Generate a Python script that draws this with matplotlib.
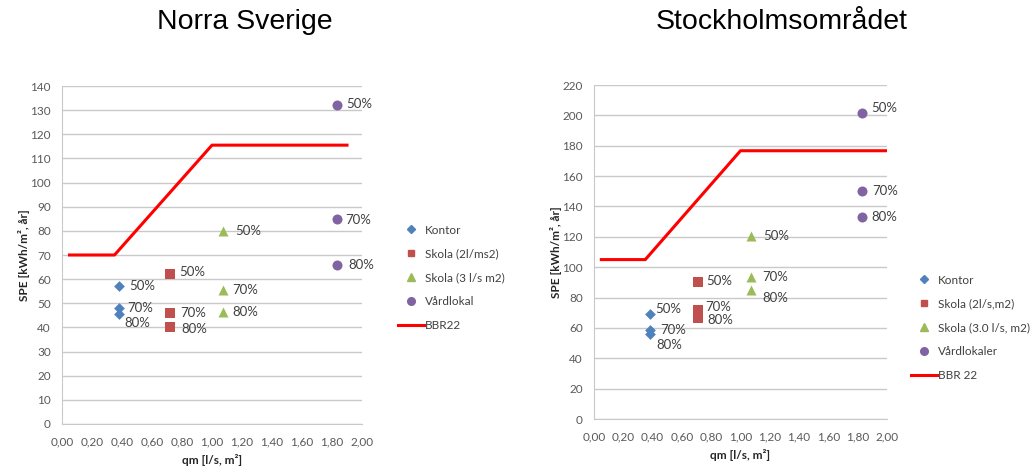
import matplotlib.pyplot as plt
from matplotlib.ticker import FuncFormatter, MultipleLocator

# --- data ---
pct_labels = ["50%", "70%", "80%"]

# Norra Sverige
n_kontor_x, n_kontor_y = 0.38, [57, 48.2, 45.7]
n_skola2_x, n_skola2_y = 0.72, [62, 46, 40.3]
n_skola3_x, n_skola3_y = 1.07, [80, 55.5, 46.3]
n_vard_x, n_vard_y = 1.83, [132.3, 85, 66]
n_bbr_x = [0.05, 0.35, 1.00, 1.90]
n_bbr_y = [70, 70, 115.5, 115.5]
n_names = ["Kontor", "Skola (2l/ms2)", "Skola (3 l/s m2)", "Vårdlokal", "BBR22"]

# Stockholmsområdet
s_kontor_x, s_kontor_y = 0.38, [68.9, 58.5, 55.8]
s_skola2_x, s_skola2_y = 0.71, [90.2, 71.7, 66.2]
s_skola3_x, s_skola3_y = 1.07, [120.8, 93.5, 84.9]
s_vard_x, s_vard_y = 1.83, [201.3, 150, 133.1]
s_bbr_x = [0.05, 0.35, 1.00, 2.00]
s_bbr_y = [105, 105, 176.7, 176.7]
s_names = ["Kontor", "Skola (2l/s,m2)", "Skola (3.0 l/s, m2)", "Vårdlokaler", "BBR 22"]

# label nudges in pixels (dx, dy) per point, styling only
n_offsets = [[(10, 0), (8, 0), (5, -9)],
             [(9, 2), (10, 0), (11, -2)],
             [(13, 0), (10, 0), (10, 0)],
             [(10, 1), (9, -1), (12, 0)]]
s_offsets = [[(6, 5), (11, 0), (7, -11)],
             [(8, 1), (7, 3), (9, -2)],
             [(12, 0), (11, 0), (12, -8)],
             [(9, 5), (10, 0), (9, 0)]]

COLORS = ["#4F81BD", "#C0504D", "#9BBB59", "#8064A2"]
MARKERS = ["D", "s", "^", "o"]
MSIZES = [30, 42, 52, 52]
LEG_MS = [4, 5, 5.5, 5.5]
GRID = "#C9C9C9"
FONT = "Lato"

plt.rcParams["font.family"] = [FONT, "DejaVu Sans"]

fig = plt.figure(figsize=(10.32, 4.71), dpi=100)


def draw(rect, groups, bbr_x, bbr_y, names, offsets, ymax, ystep, title, title_x, leg_anchor):
    ax = fig.add_axes(rect)
    for (gx, gy), c, m, ms, offs in zip(groups, COLORS, MARKERS, MSIZES, offsets):
        ax.scatter([gx] * len(gy), gy, color=c, marker=m, s=ms, zorder=3, linewidths=0)
        for yv, lab, (dx, dy) in zip(gy, pct_labels, offs):
            ax.annotate(lab, (gx, yv), xytext=(dx, dy), textcoords="offset pixels",
                        ha="left", va="center", fontsize=9.5, color="#404040", zorder=4)
    ax.plot(bbr_x, bbr_y, color="#FF0000", lw=2.2, zorder=2)

    ax.set_xlim(0, 2)
    ax.set_ylim(0, ymax)
    ax.xaxis.set_major_locator(MultipleLocator(0.2))
    ax.yaxis.set_major_locator(MultipleLocator(ystep))
    ax.xaxis.set_major_formatter(FuncFormatter(lambda v, p: f"{v:.2f}".replace(".", ",")))
    ax.yaxis.grid(True, color=GRID, lw=1)
    ax.set_axisbelow(True)
    for s in ["top", "right"]:
        ax.spines[s].set_visible(False)
    for s in ["left", "bottom"]:
        ax.spines[s].set_color(GRID)
    ax.tick_params(length=0, labelsize=8.5, labelcolor="#595959")
    ax.tick_params(axis="x", pad=9)
    ax.tick_params(axis="y", pad=8)
    ax.set_ylabel("SPE [kWh/m², år]", fontsize=8.5, fontweight="bold", color="#262626", labelpad=0)
    ax.set_xlabel("qm [l/s, m²]", fontsize=8.5, fontweight="bold", color="#262626", labelpad=5)

    handles = []
    for c, m, lms, nm in zip(COLORS, MARKERS, LEG_MS, names[:4]):
        handles.append(plt.Line2D([], [], ls="none", marker=m, color=c, markersize=lms, label=nm))
    handles.append(plt.Line2D([], [], color="#FF0000", lw=2.2, label=names[4]))
    ax.legend(handles=handles, loc="center left", bbox_to_anchor=leg_anchor,
              bbox_transform=fig.transFigure, frameon=False, fontsize=8.5,
              labelspacing=1.1, handlelength=2.2, handletextpad=0.1, borderpad=0,
              labelcolor="#404040")

    fig.text(title_x, 0.953, title, ha="center", va="center", fontsize=20.5,
             family=["Liberation Sans", "DejaVu Sans"])
    return ax


draw([62 / 1032, 1 - 424 / 471, 300 / 1032, 338 / 471],
     [(n_kontor_x, n_kontor_y), (n_skola2_x, n_skola2_y),
      (n_skola3_x, n_skola3_y), (n_vard_x, n_vard_y)],
     n_bbr_x, n_bbr_y, n_names, n_offsets, 140, 10,
     "Norra Sverige", 245 / 1032, (392 / 1032, 1 - 278 / 471))

draw([594 / 1032, 1 - 419 / 471, 293 / 1032, 334 / 471],
     [(s_kontor_x, s_kontor_y), (s_skola2_x, s_skola2_y),
      (s_skola3_x, s_skola3_y), (s_vard_x, s_vard_y)],
     s_bbr_x, s_bbr_y, s_names, s_offsets, 220, 20,
     "Stockholmsområdet", 782 / 1032, (905 / 1032, 1 - 328 / 471))

fig.savefig("out.png", dpi=100)
